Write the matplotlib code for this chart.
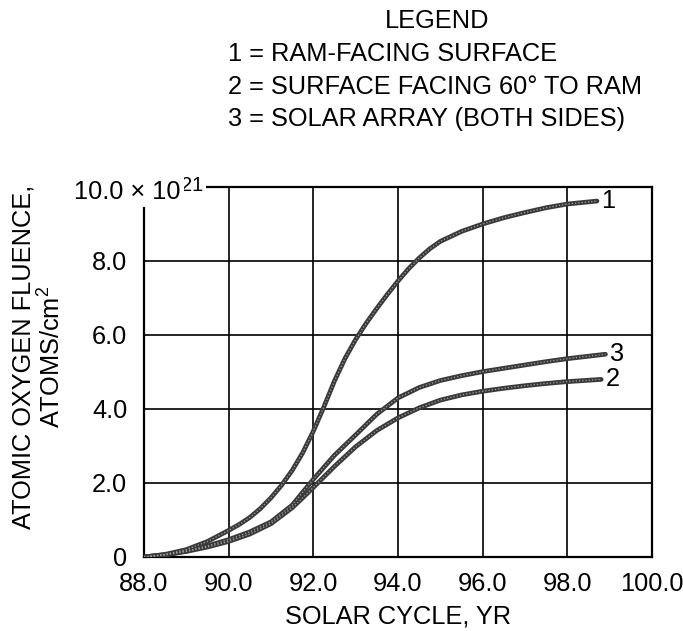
import matplotlib
matplotlib.use("Agg")
import matplotlib.pyplot as plt

plt.rcParams['font.family'] = ['Liberation Sans', 'DejaVu Sans']
plt.rcParams['mathtext.fontset'] = 'custom'
plt.rcParams['mathtext.rm'] = 'Liberation Sans'
plt.rcParams['mathtext.it'] = 'Liberation Sans:italic'

FS = 18.3

# curve 1: ram-facing surface
x1 = [88.0, 88.5, 89.0, 89.5, 90.0, 90.25, 90.5, 90.75, 91.0, 91.25, 91.5, 91.75,
      92.0, 92.25, 92.5, 92.75, 93.0, 93.25, 93.5, 93.75, 94.0, 94.25, 94.5,
      94.75, 95.0, 95.5, 96.0, 96.5, 97.0, 97.5, 98.0, 98.7]
y1 = [0.0, 0.07, 0.2, 0.42, 0.72, 0.88, 1.07, 1.31, 1.6, 1.94, 2.34, 2.82,
      3.4, 4.06, 4.76, 5.37, 5.88, 6.32, 6.72, 7.1, 7.46, 7.79, 8.08,
      8.33, 8.53, 8.8, 9.0, 9.17, 9.31, 9.44, 9.54, 9.62]
# curve 2: surface facing 60 deg to ram
x2 = [88.0, 88.5, 89.0, 89.5, 90.0, 90.5, 91.0, 91.5, 91.75, 92.0, 92.5, 93.0,
      93.5, 94.0, 94.5, 95.0, 95.5, 96.0, 96.5, 97.0, 97.5, 98.0, 98.8]
y2 = [0.0, 0.06, 0.15, 0.27, 0.42, 0.62, 0.9, 1.33, 1.6, 1.88, 2.45, 2.98,
      3.42, 3.76, 4.03, 4.24, 4.38, 4.48, 4.56, 4.63, 4.69, 4.74, 4.8]
# curve 3: solar array (both sides)
x3 = [88.0, 88.5, 89.0, 89.5, 90.0, 90.5, 91.0, 91.5, 91.75, 92.0, 92.5, 93.0,
      93.5, 94.0, 94.5, 95.0, 95.5, 96.0, 96.5, 97.0, 97.5, 98.0, 98.9]
y3 = [0.0, 0.06, 0.16, 0.3, 0.47, 0.68, 0.95, 1.4, 1.75, 2.1, 2.75, 3.3,
      3.86, 4.3, 4.58, 4.77, 4.9, 5.01, 5.1, 5.19, 5.28, 5.36, 5.48]

xticks = [88, 90, 92, 94, 96, 98, 100]
xlabels = ['88.0', '90.0', '92.0', '94.0', '96.0', '98.0', '100.0']
yticks = [0, 2, 4, 6, 8, 10]
ylabels = ['0', '2.0', '4.0', '6.0', '8.0', '']

legend_lines = ['1 = RAM-FACING SURFACE',
                '2 = SURFACE FACING 60\u00b0 TO RAM',
                '3 = SOLAR ARRAY (BOTH SIDES)']

fig = plt.figure(figsize=(6.83, 6.31), dpi=100)
ax = fig.add_axes([144/683, 1-557/631, 508/683, 370/631])

for xs, ys, lab in [(x1, y1, '1'), (x2, y2, '2'), (x3, y3, '3')]:
    ax.plot(xs, ys, color='#3a3a3a', lw=3.4, solid_capstyle='round',
            solid_joinstyle='round', zorder=3)
    ax.plot(xs, ys, color='#a0a0a0', lw=0.9, dashes=(1, 1.6), zorder=4)
    ax.annotate(lab, (xs[-1], ys[-1]), xytext=(3, 0), textcoords='offset points',
                ha='left', va='center', fontsize=FS)

ax.set_xlim(88, 100)
ax.set_ylim(0, 10)
ax.set_xticks(xticks)
ax.set_xticklabels(xlabels)
ax.set_yticks(yticks)
ax.set_yticklabels(ylabels)
ax.tick_params(length=0, labelsize=FS)
ax.tick_params(axis='y', pad=12)
ax.tick_params(axis='x', pad=11)
ax.grid(True, color='black', lw=1.2)
for s in ax.spines.values():
    s.set_linewidth(1.6)

# top-left multiplier label sitting over the corner of the frame
box = dict(facecolor='white', edgecolor='none', pad=2.0)
ax.annotate('21', (0.116, 1.0), xycoords='axes fraction',
            xytext=(0, -3), textcoords='offset points', ha='right', va='baseline',
            fontsize=14.5, zorder=10, bbox=box)
ax.annotate('10.0 \u00d7 10', (0.116, 1.0), xycoords='axes fraction',
            xytext=(-16, -8.5), textcoords='offset points', ha='right', va='baseline',
            fontsize=FS, zorder=10, bbox=box)

ax.set_xlabel('SOLAR CYCLE, YR', fontsize=FS, labelpad=6)
fig.text(24/683, 1-357/631, 'ATOMIC OXYGEN FLUENCE,', rotation=90,
         ha='center', va='center', fontsize=FS)
fig.text(52/683, 1-357/631, 'ATOMS/cm$^{\\mathrm{2}}$', rotation=90,
         ha='center', va='center', fontsize=FS)

fig.text(437/683, 1-21/631, 'LEGEND', ha='center', va='center', fontsize=FS)
for i, t in enumerate(legend_lines):
    fig.text(228/683, 1-(54+32.5*i)/631, t, ha='left', va='center', fontsize=FS)

fig.savefig('out.png', dpi=100)
